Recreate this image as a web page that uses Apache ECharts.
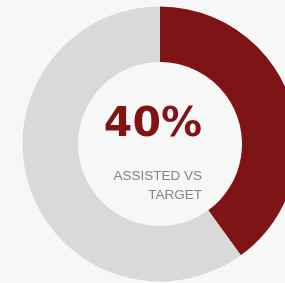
<!DOCTYPE html>
<html>
<head>
<meta charset="utf-8">
<script src="https://cdn.jsdelivr.net/npm/echarts@6/dist/echarts.min.js"></script>
<style>
  html, body { margin: 0; padding: 0; background: #f7f7f7; }
  #chart { width: 285px; height: 283px; }
</style>
</head>
<body>
<div id="chart"></div>
<script>
var categories = ['Assisted', 'Remaining'];
var values = [40, 60];
var sliceColors = ['#7f1416', '#d9d9d9'];
var headline = '40%';
var caption = 'ASSISTED VS\nTARGET';

var chart = echarts.init(document.getElementById('chart'));
option = {
    backgroundColor: '#f7f7f7',
    animation: false,
    graphic: [
        {
            type: 'text',
            x: 202,
            y: 125,
            style: {
                text: headline,
                fill: '#7f1416',
                font: 'bold 41px "DejaVu Sans"',
                align: 'right',
                verticalAlign: 'middle'
            }
        },
        {
            type: 'text',
            x: 202,
            y: 186,
            style: {
                text: caption,
                fill: '#858585',
                font: '13.5px "Liberation Sans", Arial',
                lineHeight: 19,
                align: 'right',
                verticalAlign: 'middle'
            }
        }
    ],
    series: [
        {
            type: 'pie',
            silent: true,
            center: [160, 144],
            radius: [82, 137.5],
            startAngle: 90,
            clockwise: true,
            label: { show: false },
            labelLine: { show: false },
            emphasis: { disabled: true },
            data: categories.map(function (name, i) {
                return { name: name, value: values[i], itemStyle: { color: sliceColors[i] } };
            })
        }
    ]
};
chart.setOption(option);
</script>
</body>
</html>
